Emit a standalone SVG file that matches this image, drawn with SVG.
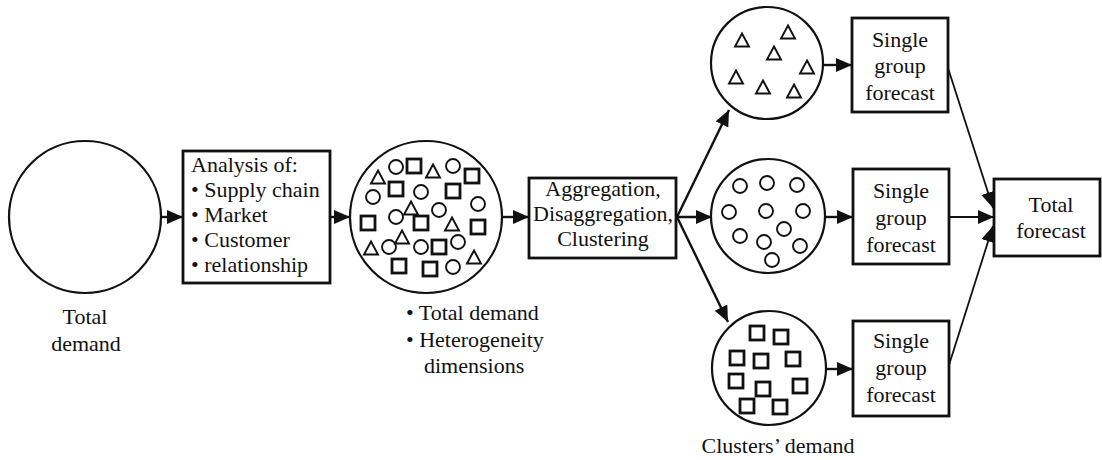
<svg xmlns="http://www.w3.org/2000/svg" xmlns:xlink="http://www.w3.org/1999/xlink" width="1102" height="460" viewBox="0 0 1102 460">
<style>
text{font-family:"Liberation Serif","Times New Roman",serif;font-size:22px;fill:#111}
.c{text-anchor:middle}
.big{fill:#fff;stroke:#111;stroke-width:2.2}
.box{fill:#fff;stroke:#111;stroke-width:2.8}
.ln{stroke:#111;stroke-width:2.4;fill:none}
.thin{stroke:#111;stroke-width:1.8;fill:none}
</style>
<defs>
<marker id="ah" markerUnits="userSpaceOnUse" markerWidth="17" markerHeight="15" refX="16" refY="7" orient="auto">
<path d="M0,0 L16,7 L0,14 z" fill="#111"/>
</marker>
<circle id="o" r="7" fill="none" stroke="#111" stroke-width="1.9"/>
<rect id="sq" x="-7" y="-7" width="14" height="14" fill="none" stroke="#111" stroke-width="2.8"/>
<path id="tr" d="M0,-7.5 L7,5.5 L-7,5.5 z" fill="none" stroke="#111" stroke-width="1.9" stroke-linejoin="miter"/>
</defs>

<g id="connectors">
<line class="ln" x1="161" y1="217" x2="183" y2="217" marker-end="url(#ah)"/>
<line class="ln" x1="330" y1="217" x2="350" y2="217" marker-end="url(#ah)"/>
<line class="ln" x1="502" y1="217" x2="529" y2="217" marker-end="url(#ah)"/>
<line class="ln" x1="677" y1="217" x2="729" y2="110" marker-end="url(#ah)"/>
<line class="ln" x1="677" y1="217" x2="712" y2="217" marker-end="url(#ah)"/>
<line class="ln" x1="677" y1="217" x2="728" y2="322" marker-end="url(#ah)"/>
<line class="ln" x1="823" y1="65" x2="852" y2="65" marker-end="url(#ah)"/>
<line class="ln" x1="825" y1="217" x2="853" y2="217" marker-end="url(#ah)"/>
<line class="ln" x1="827" y1="369" x2="853" y2="369" marker-end="url(#ah)"/>
<line class="thin" x1="948" y1="68" x2="993" y2="208" marker-end="url(#ah)"/>
<line class="thin" x1="949" y1="217" x2="994" y2="217" marker-end="url(#ah)"/>
<line class="thin" x1="949" y1="365" x2="993" y2="226" marker-end="url(#ah)"/>
</g>

<g id="total-demand">
<circle class="big" cx="85" cy="217" r="76"/>
<text class="c" x="85" y="324">Total</text>
<text class="c" x="86" y="351">demand</text>
</g>

<g id="analysis">
<rect class="box" x="183" y="151" width="147" height="132"/>
<text x="191" y="172">Analysis of:</text>
<text x="191" y="197">• Supply chain</text>
<text x="191" y="222">• Market</text>
<text x="191" y="247">• Customer</text>
<text x="191" y="272">• relationship</text>
</g>

<g id="heterogeneous-demand">
<circle class="big" cx="426" cy="217" r="76"/>
<use xlink:href="#tr" x="378" y="178"/>
<use xlink:href="#o" x="396" y="167"/>
<use xlink:href="#sq" x="414" y="166"/>
<use xlink:href="#tr" x="433" y="172"/>
<use xlink:href="#o" x="453" y="166"/>
<use xlink:href="#sq" x="472" y="176"/>
<use xlink:href="#o" x="373" y="197"/>
<use xlink:href="#sq" x="396" y="189"/>
<use xlink:href="#o" x="421" y="192"/>
<use xlink:href="#sq" x="453" y="191"/>
<use xlink:href="#o" x="478" y="204"/>
<use xlink:href="#tr" x="411" y="209"/>
<use xlink:href="#o" x="439" y="210"/>
<use xlink:href="#sq" x="368" y="223"/>
<use xlink:href="#o" x="396" y="217"/>
<use xlink:href="#sq" x="421" y="223"/>
<use xlink:href="#tr" x="452" y="225"/>
<use xlink:href="#sq" x="478" y="227"/>
<use xlink:href="#tr" x="402" y="238"/>
<use xlink:href="#tr" x="371" y="249"/>
<use xlink:href="#o" x="389" y="247"/>
<use xlink:href="#o" x="421" y="247"/>
<use xlink:href="#sq" x="439" y="247"/>
<use xlink:href="#o" x="458" y="242"/>
<use xlink:href="#tr" x="474" y="258"/>
<use xlink:href="#sq" x="399" y="266"/>
<use xlink:href="#sq" x="430" y="269"/>
<use xlink:href="#o" x="453" y="267"/>
<text x="406" y="320">• Total demand</text>
<text x="406" y="347">• Heterogeneity</text>
<text x="424" y="373">dimensions</text>
</g>

<g id="clustering">
<rect class="box" x="529" y="178" width="147" height="80"/>
<text class="c" x="603" y="196">Aggregation,</text>
<text class="c" x="603" y="221">Disaggregation,</text>
<text class="c" x="603" y="246">Clustering</text>
</g>

<g id="cluster-triangles">
<circle class="big" cx="767" cy="63" r="56"/>
<use xlink:href="#tr" x="742" y="41"/>
<use xlink:href="#tr" x="788" y="33"/>
<use xlink:href="#tr" x="774" y="54"/>
<use xlink:href="#tr" x="807" y="68"/>
<use xlink:href="#tr" x="736" y="78"/>
<use xlink:href="#tr" x="763" y="88"/>
<use xlink:href="#tr" x="794" y="92"/>
</g>

<g id="cluster-circles">
<circle class="big" cx="768" cy="216" r="57"/>
<use xlink:href="#o" x="740" y="186"/>
<use xlink:href="#o" x="767" y="183"/>
<use xlink:href="#o" x="797" y="185"/>
<use xlink:href="#o" x="729" y="212"/>
<use xlink:href="#o" x="766" y="211"/>
<use xlink:href="#o" x="803" y="211"/>
<use xlink:href="#o" x="784" y="229"/>
<use xlink:href="#o" x="740" y="236"/>
<use xlink:href="#o" x="764" y="242"/>
<use xlink:href="#o" x="800" y="246"/>
<use xlink:href="#o" x="772" y="260"/>
</g>

<g id="cluster-squares">
<circle class="big" cx="769" cy="368" r="57"/>
<use xlink:href="#sq" x="757" y="333"/>
<use xlink:href="#sq" x="781" y="337"/>
<use xlink:href="#sq" x="737" y="358"/>
<use xlink:href="#sq" x="761" y="361"/>
<use xlink:href="#sq" x="793" y="359"/>
<use xlink:href="#sq" x="736" y="381"/>
<use xlink:href="#sq" x="763" y="389"/>
<use xlink:href="#sq" x="800" y="386"/>
<use xlink:href="#sq" x="747" y="406"/>
<use xlink:href="#sq" x="780" y="407"/>
<text class="c" x="778" y="453">Clusters’ demand</text>
</g>

<g id="forecast-1">
<rect class="box" x="852" y="18" width="96" height="94"/>
<text class="c" x="900" y="47">Single</text>
<text class="c" x="900" y="73">group</text>
<text class="c" x="900" y="100">forecast</text>
</g>
<g id="forecast-2">
<rect class="box" x="853" y="169" width="96" height="95"/>
<text class="c" x="901" y="198">Single</text>
<text class="c" x="901" y="225">group</text>
<text class="c" x="901" y="252">forecast</text>
</g>
<g id="forecast-3">
<rect class="box" x="853" y="321" width="96" height="95"/>
<text class="c" x="901" y="348">Single</text>
<text class="c" x="901" y="375">group</text>
<text class="c" x="901" y="402">forecast</text>
</g>
<g id="total-forecast">
<rect class="box" x="994" y="179" width="106" height="77"/>
<text class="c" x="1051" y="212">Total</text>
<text class="c" x="1051" y="238">forecast</text>
</g>
</svg>
